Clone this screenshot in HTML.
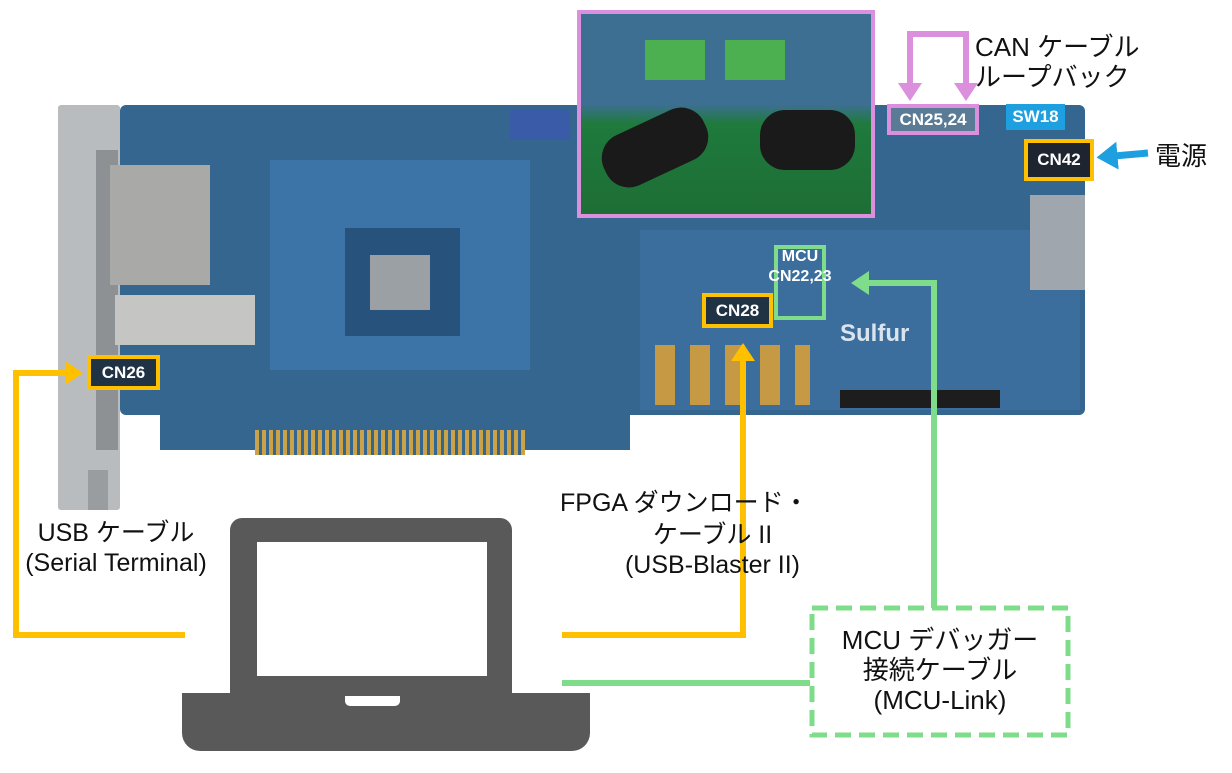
<!DOCTYPE html>
<html><head><meta charset="utf-8"><style>
body{margin:0;width:1232px;height:773px;background:#fff;position:relative;overflow:hidden;font-family:"Liberation Sans","Noto Sans CJK JP",sans-serif}
.a{position:absolute}
.lbl{position:absolute;color:#fff;font-weight:bold;font-size:17px;text-align:center;box-sizing:border-box}
.t{position:absolute;font-size:25px;color:#111;text-align:center;line-height:30px}
</style></head><body>
<!-- bracket -->
<div class="a" style="left:58px;top:105px;width:62px;height:405px;background:#b9bcbe;border-radius:3px"></div>
<div class="a" style="left:96px;top:150px;width:22px;height:300px;background:#8e9194"></div>
<div class="a" style="left:88px;top:470px;width:20px;height:40px;background:#9a9da0"></div>
<!-- PCB -->
<div class="a" style="left:120px;top:105px;width:965px;height:310px;background:#34668f;border-radius:6px"></div>
<div class="a" style="left:160px;top:405px;width:470px;height:45px;background:#34668f"></div>
<div class="a" style="left:255px;top:430px;width:270px;height:25px;background:repeating-linear-gradient(90deg,#c9a24a 0 4px,#34668f 4px 7px)"></div>
<div class="a" style="left:640px;top:230px;width:440px;height:180px;background:#3b6e9c"></div>
<div class="a" style="left:270px;top:160px;width:260px;height:210px;background:#3d74a8"></div>
<div class="a" style="left:345px;top:228px;width:115px;height:108px;background:#27527c"></div>
<div class="a" style="left:370px;top:255px;width:60px;height:55px;background:#9aa0a4"></div>
<div class="a" style="left:110px;top:165px;width:100px;height:120px;background:#a9aaa8"></div>
<div class="a" style="left:115px;top:295px;width:140px;height:50px;background:#c5c6c4"></div>
<div class="a" style="left:1030px;top:195px;width:55px;height:95px;background:#9fa6ad"></div>
<div class="a" style="left:510px;top:110px;width:60px;height:30px;background:#3a5ba8"></div>
<div class="a" style="left:840px;top:390px;width:160px;height:18px;background:#1d1d1d"></div>
<div class="a" style="left:655px;top:345px;width:155px;height:60px;background:repeating-linear-gradient(90deg,#c69a45 0 20px,#3b6e9c 20px 35px)"></div>
<div class="a" style="left:840px;top:320px;font-size:24px;font-weight:bold;color:#d9e4ee">Sulfur</div>
<!-- inset photo -->
<div class="a" style="left:577px;top:10px;width:290px;height:200px;border:4px solid #dc8fdc;background:linear-gradient(180deg,#3d6f93 0,#3d6f93 45%,#1f7a3c 55%,#1d6e35 100%)"></div>
<div class="a" style="left:645px;top:40px;width:60px;height:40px;background:#4caf50"></div>
<div class="a" style="left:725px;top:40px;width:60px;height:40px;background:#4caf50"></div>
<div class="a" style="left:600px;top:120px;width:110px;height:55px;background:#1a1a1a;border-radius:25px;transform:rotate(-25deg)"></div>
<div class="a" style="left:760px;top:110px;width:95px;height:60px;background:#1a1a1a;border-radius:25px"></div>
<!-- connector labels -->
<div class="lbl" style="left:87px;top:355px;width:73px;height:35px;background:#1f3345;border:4px solid #ffc000;line-height:27px">CN26</div>
<div class="lbl" style="left:702px;top:293px;width:71px;height:35px;background:#1f3345;border:4px solid #ffc000;line-height:27px">CN28</div>
<div class="lbl" style="left:1024px;top:139px;width:70px;height:42px;background:#1f2530;border:4px solid #ffc000;line-height:34px">CN42</div>
<div class="lbl" style="left:887px;top:104px;width:92px;height:31px;background:#5a7b96;border:4px solid #dc8fdc;line-height:23px">CN25,24</div>
<div class="lbl" style="left:1006px;top:104px;width:59px;height:26px;background:#1ea0e0;line-height:26px">SW18</div>
<div class="a" style="left:774px;top:245px;width:52px;height:75px;border:4px solid #7fdc8a;box-sizing:border-box"></div>
<div class="lbl" style="left:750px;top:247px;width:100px;line-height:20px;font-size:16px">MCU<br>CN22,23</div>
<!-- lines -->
<svg class="a" style="left:0;top:0" width="1232" height="773">
<defs>
<marker id="y" markerWidth="3" markerHeight="4" refX="0.5" refY="2" orient="auto" markerUnits="strokeWidth"><path d="M0,0L3,2L0,4z" fill="#ffc000"/></marker>
<marker id="g" markerWidth="3" markerHeight="4" refX="0.5" refY="2" orient="auto" markerUnits="strokeWidth"><path d="M0,0L3,2L0,4z" fill="#7fdc8a"/></marker>
<marker id="p" markerWidth="3" markerHeight="4" refX="0.5" refY="2" orient="auto" markerUnits="strokeWidth"><path d="M0,0L3,2L0,4z" fill="#dc8fdc"/></marker>
<marker id="b" markerWidth="3" markerHeight="4" refX="0.5" refY="2" orient="auto" markerUnits="strokeWidth"><path d="M0,0L3,2L0,4z" fill="#1ea0e0"/></marker>
</defs>
<polyline points="185,635 16,635 16,373 68,373" fill="none" stroke="#ffc000" stroke-width="6" marker-end="url(#y)"/>
<polyline points="562,635 743,635 743,358" fill="none" stroke="#ffc000" stroke-width="6" marker-end="url(#y)"/>
<polyline points="562,683 810,683" fill="none" stroke="#7fdc8a" stroke-width="6"/>
<polyline points="934,608 934,283 866,283" fill="none" stroke="#7fdc8a" stroke-width="6" marker-end="url(#g)"/>
<polyline points="910,86 910,34 966,34 966,86" fill="none" stroke="#dc8fdc" stroke-width="6" marker-end="url(#p)"/>
<polyline points="910,60 910,86" fill="none" stroke="#dc8fdc" stroke-width="6" marker-end="url(#p)"/>
<line x1="1148" y1="153" x2="1114" y2="156" stroke="#1ea0e0" stroke-width="7" marker-end="url(#b)"/>
<rect x="812" y="608" width="256" height="127" fill="#fff" stroke="#7fdc8a" stroke-width="5" stroke-dasharray="16,8"/>
</svg>
<!-- laptop -->
<div class="a" style="left:230px;top:518px;width:282px;height:175px;background:#595959;border-radius:12px 12px 0 0"></div>
<div class="a" style="left:257px;top:542px;width:230px;height:134px;background:#fff"></div>
<div class="a" style="left:182px;top:693px;width:408px;height:58px;background:#595959;border-radius:0 0 18px 18px"></div>
<div class="a" style="left:345px;top:696px;width:55px;height:10px;background:#fff;border-radius:0 0 5px 5px"></div>
<!-- texts -->
<div class="t" style="left:0;top:518px;width:232px">USB ケーブル<br>(Serial Terminal)</div>
<div class="t" style="left:560px;top:488px;width:300px;text-align:left">FPGA ダウンロード・</div>
<div class="t" style="left:560px;top:520px;width:305px">ケーブル II<br>(USB-Blaster II)</div>
<div class="t" style="left:815px;top:625px;width:250px;font-size:26px">MCU デバッガー<br>接続ケーブル<br>(MCU-Link)</div>
<div class="t" style="left:975px;top:32px;text-align:left;font-size:26px">CAN ケーブル<br>ループバック</div>
<div class="t" style="left:1155px;top:141px;text-align:left;font-size:26px">電源</div>
</body></html>
